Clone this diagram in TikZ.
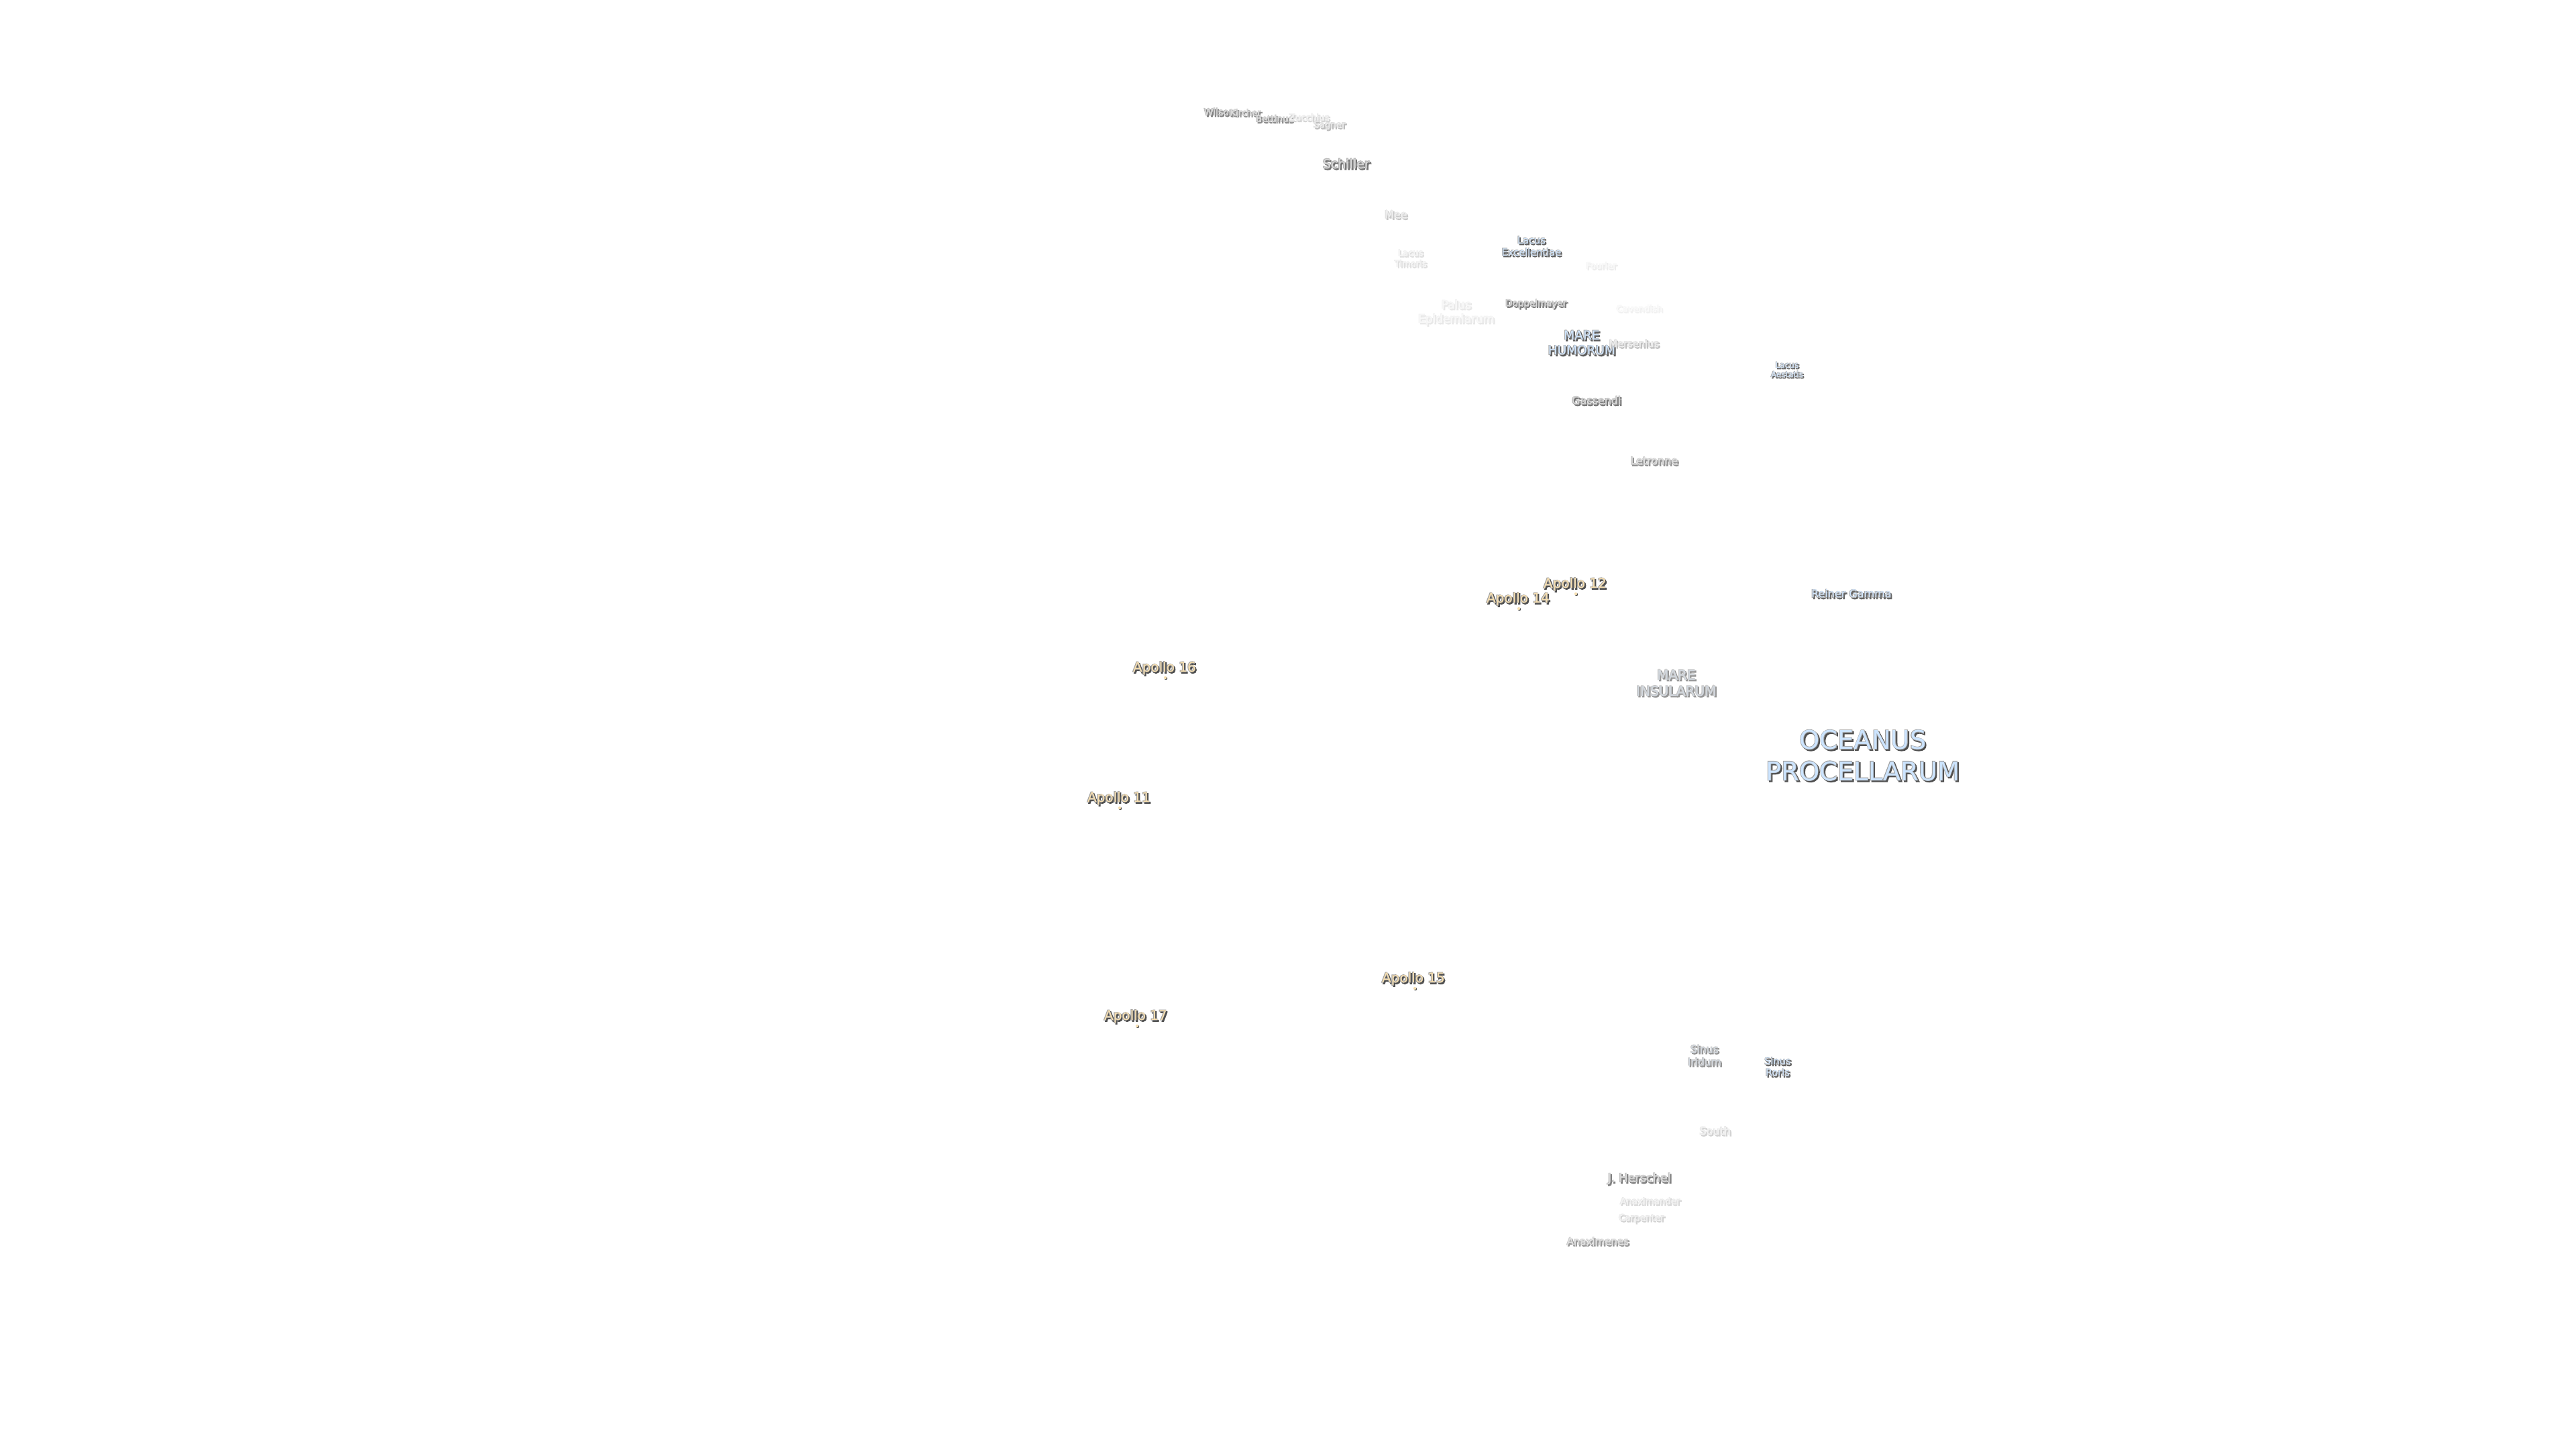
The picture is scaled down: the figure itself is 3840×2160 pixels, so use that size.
\documentclass[tikz,border=0pt]{standalone}
\usepackage{fontspec}
\setmainfont{DejaVu Sans}
\newfontfamily\strokefont[FakeBold=4]{DejaVu Sans}
\newfontfamily\strokefontsmall[FakeBold=7]{DejaVu Sans}
\definecolor{seablue}{HTML}{CCE4FF}
\definecolor{dimsea}{HTML}{B4BFCA}
\definecolor{apollotan}{HTML}{F7DFB0}
\definecolor{craterfill}{HTML}{CFCFCF}
\definecolor{shadowdark}{HTML}{505050}
\definecolor{haloedge}{HTML}{A0A0A0}
\tikzset{
  lbl/.style={inner sep=0pt, outer sep=0pt, align=center},
  sitedot/.style={circle, inner sep=0pt, minimum size=4.2pt, fill=apollotan},
  sitedotshade/.style={circle, inner sep=0pt, minimum size=4.4pt, fill=shadowdark}
}
% name, x, y, size, leading, fill, opacity %, text
\newcommand{\moonlabel}[8]{%
  \ifdim#4pt>30pt\let\pickstroke\strokefont\else\let\pickstroke\strokefontsmall\fi
  \node[lbl, text=shadowdark!#7!white, font={\pickstroke\fontsize{#4pt}{#5pt}\selectfont}] (#1shade) at (#2+1.6,#3+1.6) {#8};
  \node[lbl, text=haloedge!#7!white, font={\pickstroke\fontsize{#4pt}{#5pt}\selectfont}] (#1halo) at (#2-0.6,#3-0.6) {#8};
  \node[lbl, text=#6!#7!white, font={\fontsize{#4pt}{#5pt}\selectfont}] (#1) at (#2,#3) {#8};
}
\newcommand{\sitemark}[3]{%
  \node[sitedotshade] (#1shade) at (#2+1,#3+1) {};
  \node[sitedot] (#1) at (#2,#3) {};
}
\begin{document}
\begin{tikzpicture}[x=1pt,y=-1pt]
\useasboundingbox (0,0) rectangle (3840,2160);
\fill[white] (0,0) rectangle (3840,2160);
% craters, top group
\moonlabel{wilson}{1818}{167}{14}{17}{craterfill}{72}{Wilson}
\moonlabel{kircher}{1857}{168}{13}{16}{craterfill}{62}{Kircher}
\moonlabel{bettinus}{1900}{177}{13.4}{16}{craterfill}{65}{Bettinus}
\moonlabel{zucchius}{1952}{175}{13.4}{16}{craterfill}{24}{Zucchius}
\moonlabel{sagner}{1982}{187}{13.4}{16}{craterfill}{38}{Sagner}
\moonlabel{schiller}{2007}{244}{19}{23}{craterfill}{80}{Schiller}
\moonlabel{mee}{2081}{320}{16}{19}{craterfill}{32}{Mee}
\moonlabel{timoris}{2103}{385}{13}{16}{craterfill}{18}{Lacus\\Timoris}
\moonlabel{excellentiae}{2283}{367}{14.6}{18}{seablue}{90}{Lacus\\Excellentiae}
\moonlabel{fourier}{2387}{396}{13}{16}{craterfill}{10}{Fourier}
\moonlabel{palus}{2171}{466}{17}{21}{craterfill}{13}{Palus\\Epidemiarum}
\moonlabel{doppelmayer}{2290}{453}{13.5}{16}{craterfill}{75}{Doppelmayer}
\moonlabel{cavendish}{2444}{460}{13.2}{16}{craterfill}{8}{Cavendish}
\moonlabel{humorum}{2358}{511}{18.5}{22.5}{seablue}{92}{MARE\\HUMORUM}
\moonlabel{mersenius}{2436}{512}{14.7}{18}{craterfill}{36}{Mersenius}
\moonlabel{gassendi}{2380}{597}{16}{19}{craterfill}{78}{Gassendi}
\moonlabel{aestatis}{2664}{551}{12}{14}{seablue}{85}{Lacus\\Aestatis}
\moonlabel{letronne}{2466}{687}{16}{19}{craterfill}{62}{Letronne}
% Apollo sites
\moonlabel{aXII}{2348}{871}{20}{24}{apollotan}{100}{Apollo 12}
\sitemark{aXIIdot}{2349}{885}
\moonlabel{aXIV}{2263}{893}{20}{24}{apollotan}{100}{Apollo 14}
\sitemark{aXIVdot}{2264}{907}
\moonlabel{aXVI}{1736}{996}{20}{24}{apollotan}{100}{Apollo 16}
\sitemark{aXVIdot}{1737}{1010}
\moonlabel{aXI}{1668}{1190}{20}{24}{apollotan}{100}{Apollo 11}
\sitemark{aXIdot}{1669}{1204}
\moonlabel{aXV}{2107}{1459}{20}{24}{apollotan}{100}{Apollo 15}
\sitemark{aXVdot}{2109}{1473}
\moonlabel{aXVII}{1693}{1515}{20}{24}{apollotan}{100}{Apollo 17}
\sitemark{aXVIIdot}{1695}{1529}
% seas and others
\moonlabel{reiner}{2760}{885}{16}{19}{seablue}{88}{Reiner Gamma}
\moonlabel{insularum}{2499}{1018}{20}{24}{dimsea}{60}{MARE\\INSULARUM}
\moonlabel{oceanus}{2777}{1126}{38.4}{46.5}{seablue}{100}{OCEANUS\\PROCELLARUM}
\moonlabel{iridum}{2541}{1573}{15.5}{19}{dimsea}{60}{Sinus\\Iridum}
\moonlabel{roris}{2650}{1590}{14.5}{17}{seablue}{88}{Sinus\\Roris}
\moonlabel{south}{2557}{1685.5}{16}{19}{craterfill}{25}{South}
\moonlabel{herschel}{2444}{1757}{17.7}{21}{craterfill}{72}{J. Herschel}
\moonlabel{anaximander}{2460}{1790}{13.4}{16}{craterfill}{22}{Anaximander}
\moonlabel{carpenter}{2447}{1816}{13.5}{16}{craterfill}{25}{Carpenter}
\moonlabel{anaximenes}{2382}{1850}{15}{18}{craterfill}{58}{Anaximenes}
\end{tikzpicture}
\end{document}
